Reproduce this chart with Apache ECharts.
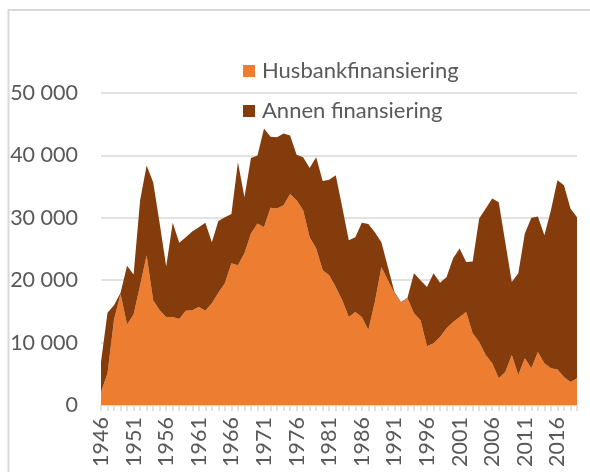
<!DOCTYPE html>
<html>
<head>
<meta charset="utf-8">
<script src="https://cdn.jsdelivr.net/npm/echarts@6/dist/echarts.min.js"></script>
<style>
  html, body { margin: 0; padding: 0; background: #fff; }
  #chart { width: 590px; height: 472px; }
</style>
</head>
<body>
<div id="chart"></div>
<script>
// years 1946 - 2019
var years = [];
for (var y = 1946; y <= 2019; y++) years.push(String(y));

var husbank = [
  2100, 5100, 13700, 17800, 12900, 14500, 19200, 24000, 16800, 15200,
  14100, 14100, 13800, 15100, 15200, 15700, 15100, 16300, 18000, 19500,
  22700, 22400, 24300, 27500, 29100, 28500, 31600, 31500, 32000, 33800,
  32800, 31200, 26900, 25100, 21600, 20800, 18900, 16800, 14100, 14900,
  14100, 12000, 16500, 22100, 20000, 17900, 16400, 17100, 14700, 13600,
  9400, 9900, 10900, 12300, 13300, 14100, 14900, 11500, 10100, 8000,
  6700, 4300, 5300, 8000, 4800, 7500, 5900, 8500, 6700, 5900,
  5700, 4500, 3700, 4300
];

var annen = [
  4800, 9700, 2300, 200, 9400, 6400, 13600, 14400, 18900, 13900,
  8100, 15100, 12200, 11800, 12600, 12800, 14100, 9800, 11500, 10600,
  7900, 16500, 9000, 12100, 10900, 15800, 11400, 11400, 11500, 9400,
  7300, 8500, 11100, 14600, 14300, 15300, 17900, 14900, 12300, 12000,
  15100, 17000, 11200, 4000, 2100, 200, 100, 100, 6400, 6400,
  9500, 11200, 8700, 8200, 10200, 11000, 8000, 11500, 19800, 23500,
  26400, 28200, 20800, 11700, 16300, 20000, 24100, 21700, 20500, 25300,
  30300, 30700, 27800, 25800
];

var fontFam = 'Lato, "Open Sans", sans-serif';
var textCol = '#595959';

function fmt(v) {
  return String(v).replace(/\B(?=(\d{3})+(?!\d))/g, ' ');
}

var chart = echarts.init(document.getElementById('chart'));
chart.setOption({
  animation: false,
  textStyle: { fontFamily: fontFam },
  graphic: [{
    type: 'rect',
    shape: { x: 8.5, y: 10, width: 700, height: 600 },
    style: { fill: 'none', stroke: '#D9D9D9', lineWidth: 2 },
    silent: true
  }],
  grid: { left: 101, right: 13, top: 93, bottom: 67 },
  legend: {
    orient: 'vertical',
    left: 243,
    top: 59,
    padding: 0,
    itemGap: 16,
    itemWidth: 12,
    itemHeight: 12,
    icon: 'rect',
    textStyle: { color: textCol, fontSize: 22, fontFamily: fontFam, lineHeight: 24, padding: [0, 0, 0, 2] },
    data: ['Husbankfinansiering', 'Annen finansiering']
  },
  xAxis: {
    type: 'category',
    data: years,
    boundaryGap: false,
    axisLine: { lineStyle: { color: '#D9D9D9', width: 1.5 } },
    axisTick: { show: true, interval: 0, length: 6, lineStyle: { color: '#D9D9D9', width: 1.5 } },
    axisLabel: { interval: 4, rotate: 90, color: textCol, fontSize: 21.5, margin: 12, fontFamily: fontFam },
    splitLine: { show: false }
  },
  yAxis: {
    type: 'value',
    min: 0,
    max: 50000,
    interval: 10000,
    axisLine: { show: false },
    axisTick: { show: false },
    axisLabel: { color: textCol, fontSize: 21.5, margin: 23, fontFamily: fontFam, formatter: fmt },
    splitLine: { lineStyle: { color: '#D9D9D9', width: 1.5 } }
  },
  series: [{
    name: 'Husbankfinansiering',
    type: 'line',
    stack: 'total',
    data: husbank,
    showSymbol: false,
    lineStyle: { width: 0 },
    itemStyle: { color: '#ED7D31' },
    areaStyle: { color: '#ED7D31', opacity: 1 }
  }, {
    name: 'Annen finansiering',
    type: 'line',
    stack: 'total',
    data: annen,
    showSymbol: false,
    lineStyle: { width: 0 },
    itemStyle: { color: '#843C0C' },
    areaStyle: { color: '#843C0C', opacity: 1 }
  }]
});
</script>
</body>
</html>
